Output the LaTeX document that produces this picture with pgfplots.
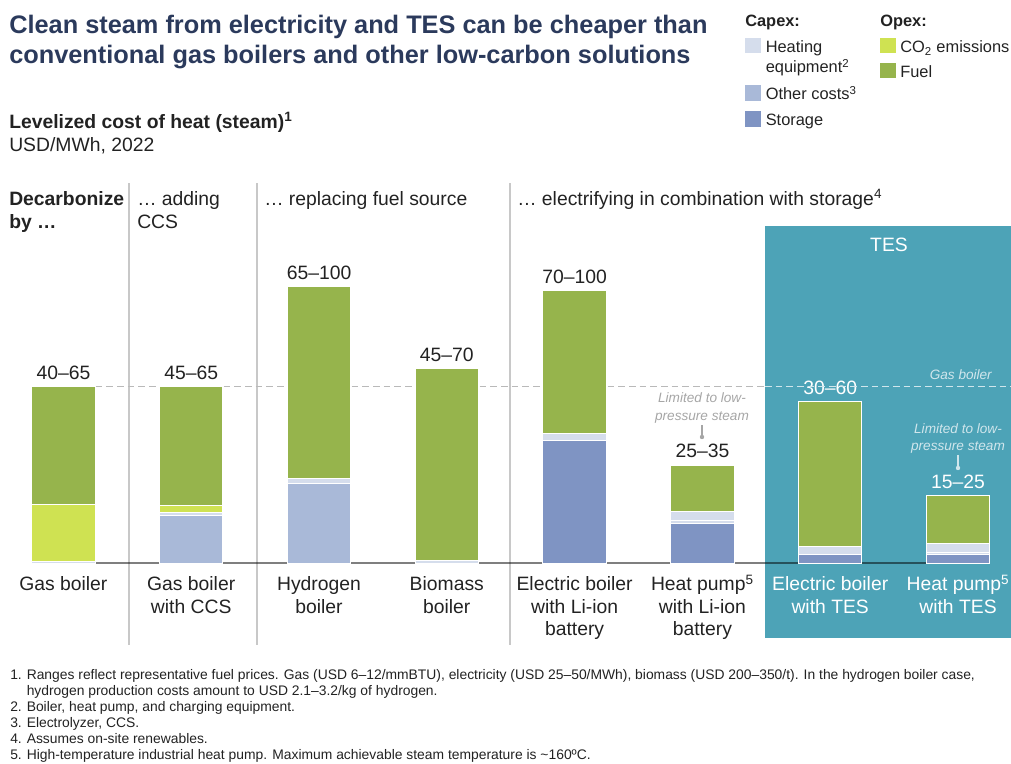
\documentclass[border=0pt]{standalone}
\usepackage{pgfplots}
\pgfplotsset{compat=1.18}
\usepackage{fontspec}
\setmainfont{Liberation Sans}
\definecolor{fuelcol}{RGB}{150,180,76}
\definecolor{co2col}{RGB}{207,226,82}
\definecolor{heatcol}{RGB}{213,221,236}
\definecolor{othercol}{RGB}{169,185,216}
\definecolor{storecol}{RGB}{127,148,195}
\definecolor{tescol}{RGB}{77,163,183}
\definecolor{titlecol}{RGB}{43,58,92}
\definecolor{txt}{RGB}{34,34,34}
\definecolor{sepcol}{RGB}{200,200,200}
\definecolor{notecol}{RGB}{166,166,166}
\definecolor{tesnote}{RGB}{208,230,236}
\tikzset{rng/.style={anchor=base, inner sep=0, text=txt, font=\fontsize{14.5}{17}\selectfont, yshift=5.5pt}}

% bar centres: 0..7, value axis in USD/MWh
\pgfplotstableread{
x storage other heat heatb co2 fuel
0 0    0    0.8 0   20.6 42.7
1 0    17.3 1.0 0   2.8  43.0
2 0    29.0 1.6 0   0    69.6
3 0    0    0.9 0   0    69.7
4 44.6 0    2.6 0   0    51.7
5 14.3 0    1.2 3.3 0    16.8
6 3.1  0    3.0 0   0    52.5
7 3.3  0    0.6 3.4 0    17.1
}\costs

\begin{document}
\begin{tikzpicture}[x=0.75pt,y=0.75pt]
\path[use as bounding box] (0,0) rectangle (1011,764);
\fill[tescol] (765,126.3) rectangle (1011,538);
\foreach \sx in {129,257,510}
  \draw[sepcol, line width=0.9pt] (\sx,119) -- (\sx,581);

\begin{axis}[at={(23.78pt,150.5pt)}, anchor=south west, scale only axis,
  width=718.7pt, height=227.7pt, xmin=-0.248, xmax=7.25, ymin=0, ymax=110,
  hide axis, clip=false, ybar stacked, bar width=47.5pt,
  every axis plot/.append style={draw=white, line width=0.75pt}]
\addplot[fill=storecol] table[x=x,y=storage] {\costs};
\addplot[fill=othercol] table[x=x,y=other] {\costs};
\addplot[fill=heatcol] table[x=x,y=heat] {\costs};
\addplot[fill=heatcol] table[x=x,y=heatb] {\costs};
\addplot[fill=co2col] table[x=x,y=co2] {\costs};
\addplot[fill=fuelcol] table[x=x,y=fuel] {\costs};

\draw[black, opacity=0.5, line width=1.6pt] (axis cs:-0.248,0) -- (axis cs:7.25,0);
\draw[gray!55, line width=0.9pt, dash pattern=on 5pt off 3pt] (axis cs:-0.248,64.1) -- (axis cs:5.49,64.1);
\draw[tesnote, line width=0.9pt, dash pattern=on 5pt off 3pt] (axis cs:5.49,64.1) -- (axis cs:7.41,64.1);

\node[rng] at (axis cs:0,64.1) {40–65};
\node[rng] at (axis cs:1,64.1) {45–65};
\node[rng] at (axis cs:2,100.2) {65–100};
\node[rng] at (axis cs:3,70.6) {45–70};
\node[rng] at (axis cs:4,98.9) {70–100};
\node[rng] at (axis cs:5,35.6) {25–35};
\node[rng, text=white] at (axis cs:7,24.4) {15–25};
\node[anchor=base, inner xsep=3pt, inner ysep=1pt, fill=tescol, text=white, font=\fontsize{14.5}{17}\selectfont, yshift=5pt] at (axis cs:6,58.6) {30–60};
\end{axis}

% title and subtitle
\begin{scope}[every node/.style={anchor=base west, inner sep=0}]
\node[font=\fontsize{19}{22}\selectfont\bfseries, text=titlecol] at (9,730.7) {Clean steam from electricity and TES can be cheaper than};
\node[font=\fontsize{19}{22}\selectfont\bfseries, text=titlecol] at (9,700.7) {conventional gas boilers and other low-carbon solutions};
\node[font=\fontsize{14.5}{17}\selectfont\bfseries, text=txt] at (9,635.7) {Levelized cost of heat (steam)\textsuperscript{1}};
\node[font=\fontsize{14.5}{17}\selectfont, text=txt] at (9,612.3) {USD/MWh, 2022};

% group headers
\node[font=\fontsize{14.5}{17}\selectfont\bfseries, text=txt] at (9,558.5) {Decarbonize};
\node[font=\fontsize{14.5}{17}\selectfont\bfseries, text=txt] at (9,535.5) {by …};
\node[font=\fontsize{14.5}{17}\selectfont, text=txt] at (137,558.5) {… adding};
\node[font=\fontsize{14.5}{17}\selectfont, text=txt] at (137,535.5) {CCS};
\node[font=\fontsize{14.5}{17}\selectfont, text=txt] at (264,558.5) {… replacing fuel source};
\node[font=\fontsize{14.5}{17}\selectfont, text=txt] at (517,558.5) {… electrifying in combination with storage\textsuperscript{4}};

% legend
\node[font=\fontsize{12.3}{14}\selectfont\bfseries, text=txt] at (745,737.3) {Capex:};
\node[font=\fontsize{12.3}{14}\selectfont\bfseries, text=txt] at (880,737.3) {Opex:};
\fill[heatcol] (745,711.3) rectangle (760.7,725.7);
\fill[othercol] (745,663.3) rectangle (760.7,679);
\fill[storecol] (745,637.3) rectangle (760.7,653);
\fill[co2col] (880,711.3) rectangle (895.7,725.7);
\fill[fuelcol] (880,686.3) rectangle (895.7,700.7);
\node[font=\fontsize{12.3}{14}\selectfont, text=txt] at (765.5,711) {Heating};
\node[font=\fontsize{12.3}{14}\selectfont, text=txt] at (765.5,691) {equipment\textsuperscript{2}};
\node[font=\fontsize{12.3}{14}\selectfont, text=txt] at (765.5,664) {Other costs\textsuperscript{3}};
\node[font=\fontsize{12.3}{14}\selectfont, text=txt] at (765.5,638) {Storage};
\node[font=\fontsize{12.3}{14}\selectfont, text=txt] at (900,711) {CO\textsubscript{2} emissions};
\node[font=\fontsize{12.3}{14}\selectfont, text=txt] at (900,686) {Fuel};

% footnotes
\node[font=\fontsize{10.4}{12}\selectfont, text=txt] at (10,84) {1.};
\node[font=\fontsize{10.4}{12}\selectfont, text=txt] at (26.5,84) {Ranges reflect representative fuel prices. Gas (USD 6–12/mmBTU), electricity (USD 25–50/MWh), biomass (USD 200–350/t). In the hydrogen boiler case,};
\node[font=\fontsize{10.4}{12}\selectfont, text=txt] at (26.5,68.5) {hydrogen production costs amount to USD 2.1–3.2/kg of hydrogen.};
\node[font=\fontsize{10.4}{12}\selectfont, text=txt] at (10,52.5) {2.};
\node[font=\fontsize{10.4}{12}\selectfont, text=txt] at (26.5,52.5) {Boiler, heat pump, and charging equipment.};
\node[font=\fontsize{10.4}{12}\selectfont, text=txt] at (10,36.5) {3.};
\node[font=\fontsize{10.4}{12}\selectfont, text=txt] at (26.5,36.5) {Electrolyzer, CCS.};
\node[font=\fontsize{10.4}{12}\selectfont, text=txt] at (10,20.5) {4.};
\node[font=\fontsize{10.4}{12}\selectfont, text=txt] at (26.5,20.5) {Assumes on-site renewables.};
\node[font=\fontsize{10.4}{12}\selectfont, text=txt] at (10,4.5) {5.};
\node[font=\fontsize{10.4}{12}\selectfont, text=txt] at (26.5,4.5) {High-temperature industrial heat pump. Maximum achievable steam temperature is \textasciitilde160ºC.};
\end{scope}

% bar labels
\begin{scope}[every node/.style={anchor=base, inner sep=0, font=\fontsize{14.5}{17}\selectfont}]
\node[text=txt] at (63.4,173) {Gas boiler};
\node[text=txt] at (191.2,173) {Gas boiler};
\node[text=txt] at (191.2,150.5) {with CCS};
\node[text=txt] at (319,173) {Hydrogen};
\node[text=txt] at (319,150.5) {boiler};
\node[text=txt] at (446.8,173) {Biomass};
\node[text=txt] at (446.8,150.5) {boiler};
\node[text=txt] at (574.6,173) {Electric boiler};
\node[text=txt] at (574.6,150.5) {with Li-ion};
\node[text=txt] at (574.6,128) {battery};
\node[text=txt] at (702.4,173) {Heat pump\textsuperscript{5}};
\node[text=txt] at (702.4,150.5) {with Li-ion};
\node[text=txt] at (702.4,128) {battery};
\node[text=white] at (830.2,173) {Electric boiler};
\node[text=white] at (830.2,150.5) {with TES};
\node[text=white] at (958,173) {Heat pump\textsuperscript{5}};
\node[text=white] at (958,150.5) {with TES};
\node[text=white] at (889,512) {TES};
\end{scope}

% annotations
\begin{scope}[every node/.style={anchor=base, inner sep=0, font=\fontsize{10.2}{12}\selectfont\itshape}]
\node[text=tesnote] at (960.8,384) {Gas boiler};
\node[text=notecol] at (702,361) {Limited to low-};
\node[text=notecol] at (702,343.5) {pressure steam};
\draw[notecol, line width=0.9pt] (702,339) -- (702,327);
\fill[notecol] (702,327) circle (2.2);
\node[text=tesnote] at (958,330) {Limited to low-};
\node[text=tesnote] at (958,313) {pressure steam};
\draw[tesnote, line width=0.9pt] (958,309) -- (958,296);
\fill[tesnote] (958,296) circle (2.2);
\end{scope}
\end{tikzpicture}
\end{document}
